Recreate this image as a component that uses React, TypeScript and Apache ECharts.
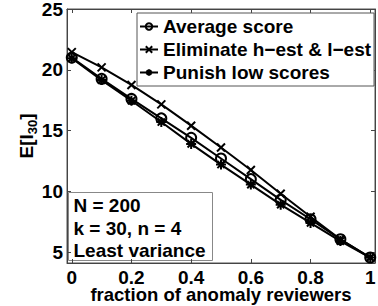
import React, { useEffect, useRef } from "react";
import * as echarts from "echarts";

const xs = [0, 0.1, 0.2, 0.3, 0.4, 0.5, 0.6, 0.7, 0.8, 0.9, 1];
const averageScore = [21.0, 19.25, 17.6, 16.0, 14.4, 12.7, 11.0, 9.3, 7.7, 6.05, 4.55];
const eliminate = [21.45, 20.2, 18.75, 17.15, 15.4, 13.6, 11.75, 9.8, 7.9, 6.05, 4.55];
const punish = [20.95, 19.15, 17.45, 15.7, 13.9, 12.2, 10.55, 8.9, 7.4, 5.9, 4.55];
const xTicks = [0, 0.2, 0.4, 0.6, 0.8, 1];
const xTickLabels = ["0", "0.2", "0.4", "0.6", "0.8", "1"];
const yTicks = [5, 10, 15, 20, 25];
const seriesNames = ["Average score", "Eliminate h\u2212est & l\u2212est", "Punish low scores"];
const noteLines = ["N = 200", "k = 30, n = 4", "Least variance"];

const FONT = "Liberation Sans";
const FS = 19;

const X_SYMBOL = "path://M0,0L10,10M10,0L0,10";
const STAR_SYMBOL =
  "path://M5,0L5,10M0,5L10,5M1.4,1.4L8.6,8.6M8.6,1.4L1.4,8.6";

export default function App() {
  const ref = useRef<HTMLDivElement>(null);
  useEffect(() => {
    if (!ref.current) return;
    const chart = echarts.init(ref.current, null, { renderer: "svg" });
    const pair = (ys: number[]) => xs.map((x, i) => [x, ys[i]]);
    const axisLineStyle = { color: "#444", width: 1 };
    const tickStyle = { color: "#444", width: 1 };
    const txt = { fontFamily: FONT, fontWeight: "bold" as const, fontSize: FS, color: "#000" };
    const mkSeries = (name: string, ys: number[], symbol: string, size: number) => ({
      name,
      type: "line",
      data: pair(ys),
      symbol,
      symbolSize: size,
      lineStyle: { color: "#000", width: 2 },
      itemStyle: { color: "rgba(0,0,0,0)", borderColor: "#000", borderWidth: 2 },
      emphasis: { disabled: true },
    });
    chart.setOption({
      animation: false,
      backgroundColor: "#fff",
      grid: {
        left: 67,
        top: 9,
        width: 308,
        height: 254,
        show: true,
        containLabel: false,
        outerBoundsMode: "none",
        borderColor: "#555",
        borderWidth: 1,
        backgroundColor: "transparent",
      },
      legend: {
        orient: "vertical",
        left: 137,
        top: 13,
        padding: [2, 3, 2, 2],
        itemGap: 0,
        itemWidth: 18,
        itemHeight: 8,
        backgroundColor: "#fff",
        borderColor: "#555",
        borderWidth: 1,
        borderRadius: 0,
        textStyle: { ...txt, lineHeight: 23 },
        data: seriesNames,
      },
      xAxis: [
        {
          type: "value",
          min: -0.016,
          max: 1.016,
          position: "bottom",
          axisLine: { show: true, onZero: false, lineStyle: axisLineStyle },
          axisTick: { show: true, inside: true, length: 4, customValues: xTicks, lineStyle: tickStyle },
          axisLabel: {
            customValues: xTicks,
            formatter: (v: number) => xTickLabels[xTicks.findIndex((t) => Math.abs(t - v) < 1e-9)] ?? String(v),
            margin: 8,
            ...txt,
            lineHeight: 13,
          },
          splitLine: { show: false },
          name: "fraction of anomaly reviewers",
          nameLocation: "middle",
          nameGap: 25,
          nameMoveOverlap: false,
          nameTextStyle: { ...txt, fontSize: 18.5, lineHeight: 13 },
        },
        {
          type: "value",
          min: -0.016,
          max: 1.016,
          position: "top",
          axisLine: { show: true, onZero: false, lineStyle: axisLineStyle },
          axisTick: { show: true, inside: true, length: 4, customValues: xTicks, lineStyle: tickStyle },
          axisLabel: { show: false },
          splitLine: { show: false },
        },
      ],
      yAxis: [
        {
          type: "value",
          min: 4.1,
          max: 25,
          position: "left",
          axisLine: { show: true, onZero: false, lineStyle: axisLineStyle },
          axisTick: { show: true, inside: true, length: 4, customValues: yTicks, lineStyle: tickStyle },
          axisLabel: { customValues: yTicks, margin: 4, ...txt },
          splitLine: { show: false },
          name: "{a|E[I}{s|30}{a|]}",
          nameLocation: "middle",
          nameRotate: 90,
          nameGap: 28,
          nameMoveOverlap: false,
          nameTextStyle: {
            rich: {
              a: { ...txt, lineHeight: 26, verticalAlign: "middle" },
              s: { ...txt, fontSize: 13, lineHeight: 14, verticalAlign: "bottom" },
            },
          },
        },
        {
          type: "value",
          min: 4.1,
          max: 25,
          position: "right",
          axisLine: { show: true, onZero: false, lineStyle: axisLineStyle },
          axisTick: { show: true, inside: true, length: 4, customValues: yTicks, lineStyle: tickStyle },
          axisLabel: { show: false },
          splitLine: { show: false },
        },
      ],
      series: [
        mkSeries(seriesNames[0], averageScore, "circle", 10),
        mkSeries(seriesNames[1], eliminate, X_SYMBOL, 8),
        mkSeries(seriesNames[2], punish, STAR_SYMBOL, 10),
      ],
      graphic: [
        {
          type: "group",
          left: 68,
          top: 192,
          children: [
            {
              type: "rect",
              shape: { x: 0, y: 0, width: 144, height: 68 },
              style: { fill: "#fff", stroke: "#888", lineWidth: 1 },
            },
            ...noteLines.map((t, i) => ({
              type: "text",
              x: 5,
              y: 13 + i * 22.5,
              style: {
                text: t,
                font: `bold ${FS}px ${FONT}`,
                fill: "#000",
                verticalAlign: "middle",
              },
            })),
          ],
        },
      ],
    });
    return () => chart.dispose();
  }, []);
  return <div ref={ref} style={{ position: "fixed", left: 0, top: 0, width: 378, height: 306 }} />;
}
